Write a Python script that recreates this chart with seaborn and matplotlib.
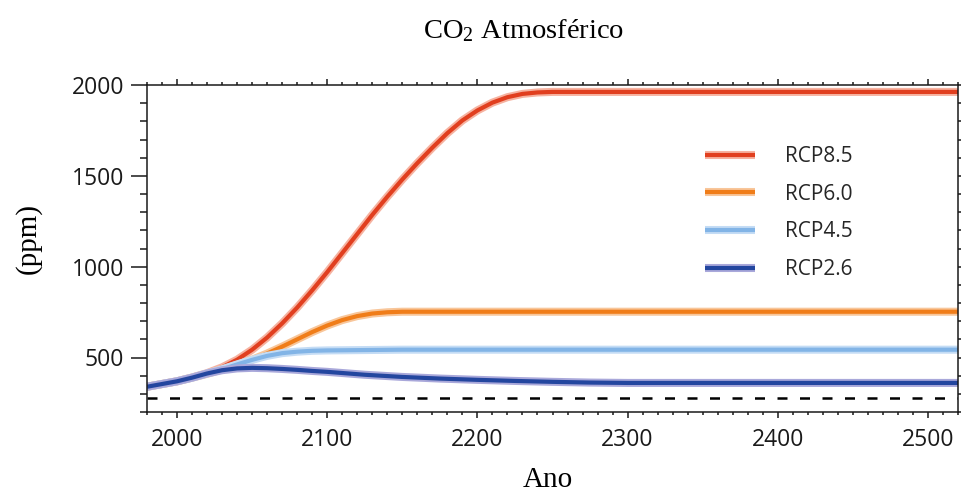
import numpy as np
import pandas as pd
import matplotlib
matplotlib.use("Agg")
import matplotlib.pyplot as plt
import matplotlib.patheffects as pe
from matplotlib.ticker import MultipleLocator
import seaborn as sns

# Atmospheric CO2 concentration pathways (ppm)
scenarios = ["RCP8.5", "RCP6.0", "RCP4.5", "RCP2.6"]

years_85 = [1980, 1990, 2000, 2010, 2020, 2030, 2040, 2050, 2060, 2070, 2080, 2090,
            2100, 2110, 2120, 2130, 2140, 2150, 2160, 2170, 2180, 2190, 2200, 2210,
            2220, 2230, 2240, 2250, 2520]
ppm_85 = [339, 354, 369, 390, 414, 446, 488, 543, 610, 688, 775, 870,
          970, 1075, 1180, 1285, 1385, 1480, 1570, 1655, 1735, 1805, 1860, 1903,
          1933, 1951, 1959, 1962, 1962]

years_60 = [1980, 1990, 2000, 2010, 2020, 2030, 2040, 2050, 2060, 2070, 2080, 2090,
            2100, 2110, 2120, 2130, 2140, 2150, 2160, 2520]
ppm_60 = [339, 354, 369, 389, 410, 434, 460, 488, 522, 560, 600, 640,
          676, 706, 728, 742, 749, 752, 752, 752]

years_45 = [1980, 1990, 2000, 2010, 2020, 2030, 2040, 2050, 2060, 2070, 2080, 2090,
            2100, 2125, 2150, 2520]
ppm_45 = [339, 354, 369, 389, 412, 435, 462, 487, 509, 524, 532, 537,
          539, 541, 543, 543]

years_26 = [1980, 1990, 2000, 2010, 2020, 2030, 2040, 2050, 2060, 2070, 2080, 2090,
            2100, 2125, 2150, 2175, 2200, 2225, 2250, 2275, 2300, 2520]
ppm_26 = [339, 354, 369, 389, 412, 430, 440, 443, 441, 437, 432, 426,
          421, 405, 393, 384, 377, 371, 366, 362, 360, 360]

preindustrial = 278

core_colors = ["#e13f1f", "#f07d19", "#82b4e6", "#23469f"]
halo_colors = ["#f6b2a0", "#f8c69a", "#c4dcf5", "#a9a8da"]

series = {
    "RCP8.5": (years_85, ppm_85),
    "RCP6.0": (years_60, ppm_60),
    "RCP4.5": (years_45, ppm_45),
    "RCP2.6": (years_26, ppm_26),
}
df = pd.concat(
    [pd.DataFrame({"Ano": y, "CO2": v, "Cenário": name}) for name, (y, v) in series.items()],
    ignore_index=True,
)

sns.set_theme(style="white")
plt.rcParams["font.family"] = ["Open Sans", "DejaVu Sans"]
plt.rcParams["mathtext.default"] = "regular"

fig = plt.figure(figsize=(9.61, 4.93), dpi=100)
ax = fig.add_axes([147 / 961, 1 - 412 / 493, (958 - 147) / 961, (412 - 85) / 493])

sns.lineplot(data=df, x="Ano", y="CO2", hue="Cenário", hue_order=scenarios,
             palette=core_colors, linewidth=3.0, estimator=None, legend=False, ax=ax)

for line, halo in zip(ax.lines, halo_colors):
    line.set_solid_capstyle("butt")
    line.set_path_effects([pe.Stroke(linewidth=5.8, foreground=halo), pe.Normal()])

ax.axhline(preindustrial, color="black", linewidth=1.8, dashes=(4, 5), zorder=1)

ax.set_xlim(1980, 2520)
ax.set_ylim(200, 2000)
ax.xaxis.set_major_locator(MultipleLocator(100))
ax.xaxis.set_minor_locator(MultipleLocator(10))
ax.yaxis.set_major_locator(MultipleLocator(500))
ax.yaxis.set_minor_locator(MultipleLocator(100))

for sp in ax.spines.values():
    sp.set_visible(True)
    sp.set_color("#1a1a1a")
    sp.set_linewidth(1.1)

ax.tick_params(axis="y", which="major", direction="out", length=11.5, width=1.1,
               left=True, right=True, labelsize=16.5, pad=5, color="#1a1a1a")
ax.tick_params(axis="y", which="minor", direction="out", length=5, width=1.1,
               left=True, right=True, color="#1a1a1a")
ax.tick_params(axis="x", which="major", direction="out", length=4.5, width=1.1,
               bottom=True, top=True, labelsize=16.5, pad=7, color="#1a1a1a")
ax.tick_params(axis="x", which="minor", direction="out", length=2.2, width=1.1,
               bottom=True, top=True, color="#1a1a1a")
for lab in ax.get_xticklabels() + ax.get_yticklabels():
    lab.set_color("#1a1a1a")

serif = "Liberation Serif"
ax.set_xlabel("Ano", fontfamily=serif, fontsize=21, va="center", color="black")
ax.xaxis.set_label_coords((548 - 147) / 811, (412 - 480) / 327)
ax.set_ylabel("(ppm)", fontfamily=serif, fontsize=21, va="center", color="black")
ax.yaxis.set_label_coords((28 - 147) / 811, (412 - 238) / 327)

fig.text(524 / 961, 1 - 31 / 493, "CO$_{2}$ Atmosférico", fontfamily=serif,
         fontsize=20.5, ha="center", va="center", color="black")

ax.legend(handles=ax.lines[:4], labels=scenarios, loc="upper left",
          bbox_to_anchor=(705 / 961, 1 - 146 / 493), bbox_transform=fig.transFigure,
          frameon=False, fontsize=15, handlelength=2.4, handletextpad=1.45,
          labelspacing=0.8, borderpad=0, borderaxespad=0)

fig.savefig("out.png", dpi=100)
